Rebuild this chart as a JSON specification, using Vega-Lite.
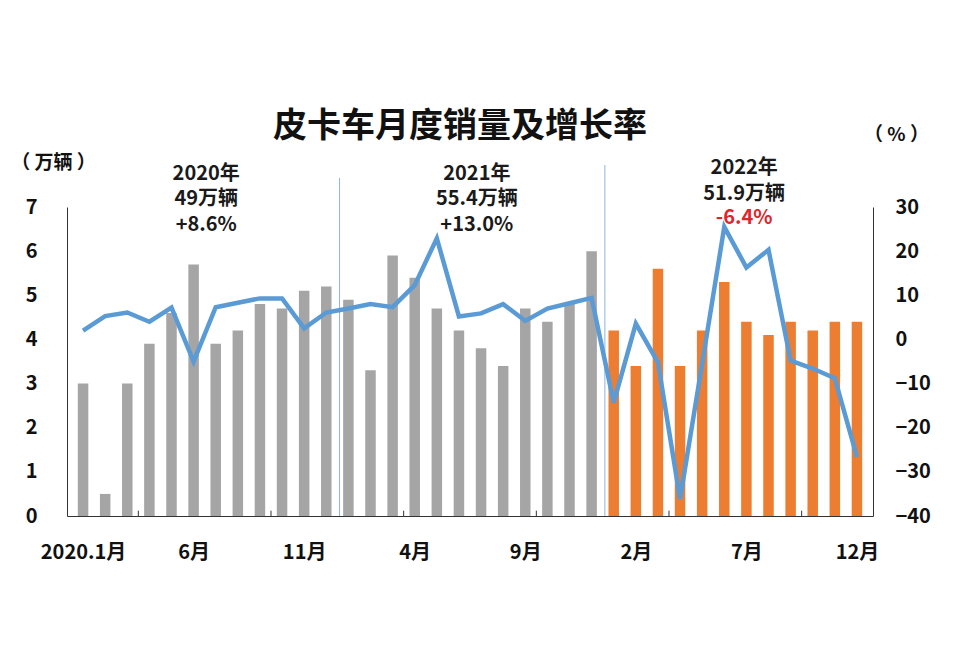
{
  "$schema": "https://vega.github.io/schema/vega-lite/v6.json",
  "width": 806,
  "height": 309,
  "autosize": {"type": "none"},
  "padding": {"left": 67, "top": 207, "right": 80, "bottom": 149},
  "background": "white",
  "config": {
    "font": "Noto Sans CJK SC",
    "view": {"stroke": null},
    "axis": {"labelFont": "Noto Sans CJK SC", "titleFont": "Noto Sans CJK SC", "grid": false}
  },
  "title": {
    "text": "皮卡车月度销量及增长率",
    "font": "Noto Sans CJK SC",
    "fontSize": 34,
    "fontWeight": "bold",
    "color": "#111111",
    "anchor": "middle",
    "frame": "group",
    "baseline": "middle",
    "dx": -10,
    "offset": -36
  },
  "datasets": {
    "monthly": [
      {"idx": 1, "month": "2020-01", "year": "2020", "sales": 3.0, "growth": 2.0},
      {"idx": 2, "month": "2020-02", "year": "2020", "sales": 0.5, "growth": 5.3},
      {"idx": 3, "month": "2020-03", "year": "2020", "sales": 3.0, "growth": 6.1},
      {"idx": 4, "month": "2020-04", "year": "2020", "sales": 3.9, "growth": 4.0},
      {"idx": 5, "month": "2020-05", "year": "2020", "sales": 4.6, "growth": 7.2},
      {"idx": 6, "month": "2020-06", "year": "2020", "sales": 5.7, "growth": -5.0},
      {"idx": 7, "month": "2020-07", "year": "2020", "sales": 3.9, "growth": 7.3},
      {"idx": 8, "month": "2020-08", "year": "2020", "sales": 4.2, "growth": 8.3},
      {"idx": 9, "month": "2020-09", "year": "2020", "sales": 4.8, "growth": 9.3},
      {"idx": 10, "month": "2020-10", "year": "2020", "sales": 4.7, "growth": 9.3},
      {"idx": 11, "month": "2020-11", "year": "2020", "sales": 5.1, "growth": 2.5},
      {"idx": 12, "month": "2020-12", "year": "2020", "sales": 5.2, "growth": 6.1},
      {"idx": 13, "month": "2021-01", "year": "2021", "sales": 4.9, "growth": 7.0},
      {"idx": 14, "month": "2021-02", "year": "2021", "sales": 3.3, "growth": 8.0},
      {"idx": 15, "month": "2021-03", "year": "2021", "sales": 5.9, "growth": 7.3},
      {"idx": 16, "month": "2021-04", "year": "2021", "sales": 5.4, "growth": 12.3},
      {"idx": 17, "month": "2021-05", "year": "2021", "sales": 4.7, "growth": 22.9},
      {"idx": 18, "month": "2021-06", "year": "2021", "sales": 4.2, "growth": 5.2},
      {"idx": 19, "month": "2021-07", "year": "2021", "sales": 3.8, "growth": 5.9},
      {"idx": 20, "month": "2021-08", "year": "2021", "sales": 3.4, "growth": 8.0},
      {"idx": 21, "month": "2021-09", "year": "2021", "sales": 4.7, "growth": 4.2},
      {"idx": 22, "month": "2021-10", "year": "2021", "sales": 4.4, "growth": 7.0},
      {"idx": 23, "month": "2021-11", "year": "2021", "sales": 4.8, "growth": 8.2},
      {"idx": 24, "month": "2021-12", "year": "2021", "sales": 6.0, "growth": 9.4},
      {"idx": 25, "month": "2022-01", "year": "2022", "sales": 4.2, "growth": -14.3},
      {"idx": 26, "month": "2022-02", "year": "2022", "sales": 3.4, "growth": 3.6},
      {"idx": 27, "month": "2022-03", "year": "2022", "sales": 5.6, "growth": -5.2},
      {"idx": 28, "month": "2022-04", "year": "2022", "sales": 3.4, "growth": -36.2},
      {"idx": 29, "month": "2022-05", "year": "2022", "sales": 4.2, "growth": -5.5},
      {"idx": 30, "month": "2022-06", "year": "2022", "sales": 5.3, "growth": 25.5},
      {"idx": 31, "month": "2022-07", "year": "2022", "sales": 4.4, "growth": 16.3},
      {"idx": 32, "month": "2022-08", "year": "2022", "sales": 4.1, "growth": 20.3},
      {"idx": 33, "month": "2022-09", "year": "2022", "sales": 4.4, "growth": -4.8},
      {"idx": 34, "month": "2022-10", "year": "2022", "sales": 4.2, "growth": -6.6},
      {"idx": 35, "month": "2022-11", "year": "2022", "sales": 4.4, "growth": -8.8},
      {"idx": 36, "month": "2022-12", "year": "2022", "sales": 4.4, "growth": -26.6}
    ],
    "notes": [
      {"px": 6.57, "py": 7.75, "label": "2020年\n49万辆\n+8.6%"},
      {"px": 18.81, "py": 7.75, "label": "2021年\n55.4万辆\n+13.0%"},
      {"px": 30.9, "py": 7.88, "label": "2022年\n51.9万辆"},
      {"px": 30.9, "py": 6.74, "label": "-6.4%"}
    ],
    "separators": [
      {"sx": 12.6, "sbottom": 0, "stop": 7.66},
      {"sx": 24.6, "sbottom": 0, "stop": 7.95}
    ],
    "ticks": [
      {"t": 3.5, "tb": 0, "tt": 0.12}, {"t": 9.5, "tb": 0, "tt": 0.12}, {"t": 15.5, "tb": 0, "tt": 0.12},
      {"t": 21.5, "tb": 0, "tt": 0.12}, {"t": 27.5, "tb": 0, "tt": 0.12}, {"t": 33.5, "tb": 0, "tt": 0.12}
    ]
  },
  "layer": [
    {
      "layer": [
        {
          "data": {"name": "monthly"},
          "mark": {"type": "bar", "size": 10.5},
          "encoding": {
            "x": {
              "field": "idx",
              "type": "quantitative",
              "scale": {"domain": [0.5, 36.5], "nice": false, "zero": false},
              "axis": {
                "title": null,
                "values": [1, 6, 11, 16, 21, 26, 31, 36],
                "labelExpr": "datum.value == 1 ? '2020.1月' : (((datum.value - 1) % 12) + 1) + '月'",
                "ticks": false,
                "tickSize": 0,
                "labelPadding": 26,
                "labelFontSize": 20,
                "labelFontWeight": "bold",
                "labelColor": "#111111",
                "labelBaseline": "top",
                "domainColor": "#333333",
                "domainWidth": 1,
                "labelFlush": false,
                "labelOverlap": false
              }
            },
            "y": {
              "field": "sales",
              "type": "quantitative",
              "scale": {"domain": [0, 7], "nice": false, "zero": true},
              "axis": {
                "title": "（ 万辆 ）",
                "titleAngle": 0,
                "titleX": -14,
                "titleY": -45,
                "titleAlign": "center",
                "titleBaseline": "middle",
                "titleFontSize": 19,
                "titleFontWeight": "bold",
                "titleColor": "#111111",
                "values": [0, 1, 2, 3, 4, 5, 6, 7],
                "ticks": false,
                "tickSize": 0,
                "labelPadding": 30,
                "labelFontSize": 20,
                "labelFontWeight": "bold",
                "labelColor": "#111111",
                "domainColor": "#333333",
                "domainWidth": 1
              }
            },
            "color": {
              "field": "year",
              "type": "nominal",
              "scale": {"domain": ["2020", "2021", "2022"], "range": ["#A5A5A5", "#A5A5A5", "#ED7D31"]},
              "legend": null
            }
          }
        },
        {
          "data": {"name": "separators"},
          "mark": {"type": "rule", "color": "#8EB4DA", "strokeWidth": 1},
          "encoding": {
            "x": {"field": "sx", "type": "quantitative"},
            "y": {"field": "sbottom", "type": "quantitative"},
            "y2": {"field": "stop"}
          }
        },
        {
          "data": {"name": "ticks"},
          "mark": {"type": "rule", "color": "#333333", "strokeWidth": 1},
          "encoding": {
            "x": {"field": "t", "type": "quantitative"},
            "y": {"field": "tb", "type": "quantitative"},
            "y2": {"field": "tt"}
          }
        },
        {
          "data": {"name": "notes"},
          "mark": {"type": "text", "fontSize": 20, "fontWeight": "bold", "align": "center", "baseline": "middle", "lineBreak": "\n", "lineHeight": 25.5},
          "encoding": {
            "x": {"field": "px", "type": "quantitative"},
            "y": {"field": "py", "type": "quantitative"},
            "text": {"field": "label", "type": "nominal"},
            "color": {
              "condition": {"test": "indexof(datum.label, '-') === 0", "value": "#E0262D"},
              "value": "#1A1A1A"
            }
          }
        }
      ]
    },
    {
      "data": {"name": "monthly"},
      "mark": {"type": "line", "color": "#5B9BD5", "strokeWidth": 4.5, "strokeJoin": "miter"},
      "encoding": {
        "x": {"field": "idx", "type": "quantitative"},
        "y": {
          "field": "growth",
          "type": "quantitative",
          "scale": {"domain": [-40, 30], "nice": false, "zero": false},
          "axis": {
            "orient": "right",
            "title": "（ % ）",
            "titleAngle": 0,
            "titleX": 23,
            "titleY": -73,
            "titleAlign": "center",
            "titleBaseline": "middle",
            "titleFontSize": 19,
            "titleFontWeight": "bold",
            "titleColor": "#111111",
            "values": [-40, -30, -20, -10, 0, 10, 20, 30],
            "ticks": false,
            "tickSize": 0,
            "labelPadding": 22,
            "labelFontSize": 20,
            "labelFontWeight": "bold",
            "labelColor": "#111111",
            "domainColor": "#333333",
            "domainWidth": 1
          }
        }
      }
    }
  ],
  "resolve": {"scale": {"y": "independent"}}
}
